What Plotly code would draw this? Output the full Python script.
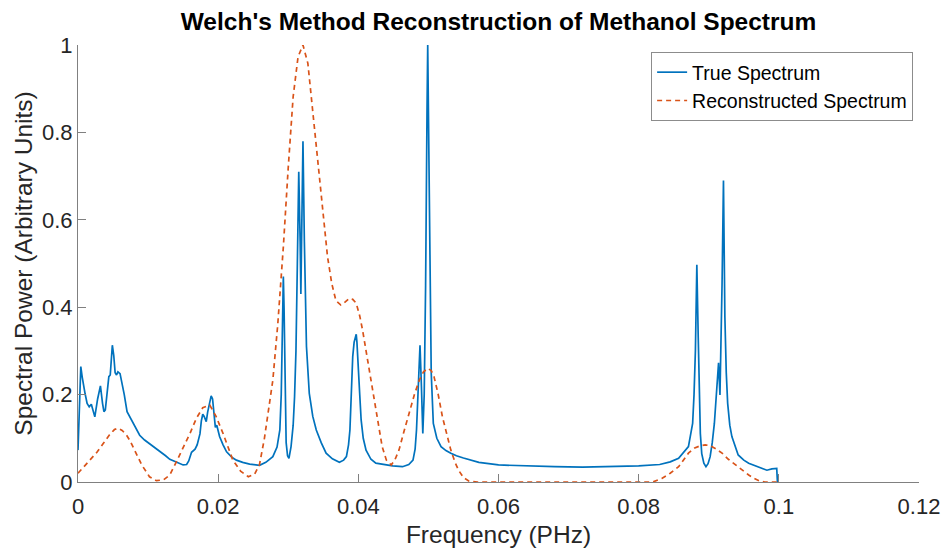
import plotly.graph_objects as go

# ---- data ----
true_freq = [0, 0.0002, 0.0004, 0.0006, 0.00076, 0.001, 0.0013, 0.0016, 0.0019, 0.0022, 0.0024, 0.0028,
             0.0032, 0.0035, 0.0037, 0.0039, 0.0042, 0.0044, 0.0046, 0.0049, 0.0051, 0.0053, 0.0055, 0.0057,
             0.006, 0.0063, 0.0066, 0.007, 0.0075, 0.0079, 0.0088, 0.0095, 0.0102, 0.011, 0.0117, 0.0125,
             0.0131, 0.014, 0.015, 0.0155, 0.0158, 0.0162, 0.0167, 0.017, 0.0174, 0.0176, 0.0178, 0.018,
             0.0183, 0.0185, 0.0188, 0.019, 0.0192, 0.0194, 0.0196, 0.0198, 0.02, 0.0202, 0.0207, 0.0212,
             0.022, 0.0226, 0.0235, 0.0245, 0.0259, 0.0268, 0.0278, 0.0284, 0.0288, 0.029, 0.0292, 0.0293,
             0.0294, 0.0295, 0.0297, 0.0299, 0.0301, 0.0304, 0.0307, 0.0309, 0.0311, 0.0313, 0.0315, 0.0317,
             0.0318, 0.0319, 0.0321, 0.0323, 0.0326, 0.033, 0.0335, 0.034, 0.0347, 0.0354, 0.0363, 0.0373,
             0.0379, 0.0383, 0.0386, 0.0388, 0.039, 0.0392, 0.0394, 0.0396, 0.0397, 0.0398, 0.04, 0.0402,
             0.0404, 0.0407, 0.0411, 0.0418, 0.0425, 0.0435, 0.0449, 0.0463, 0.0472, 0.0478, 0.0481, 0.0483,
             0.0486, 0.0488, 0.049, 0.0492, 0.0494, 0.0496, 0.0498, 0.0499, 0.05, 0.0502, 0.0504, 0.0507,
             0.0512, 0.0518, 0.0525, 0.0532, 0.054, 0.055, 0.0572, 0.06, 0.0642, 0.068, 0.072, 0.076, 0.08,
             0.083, 0.0845, 0.0857, 0.0871, 0.0877, 0.0879, 0.0881, 0.0883, 0.0885, 0.0887, 0.0888, 0.089,
             0.0893, 0.0896, 0.0899, 0.0902, 0.0905, 0.0908, 0.0911, 0.0914, 0.0916, 0.0918, 0.0919, 0.0921,
             0.0923, 0.0925, 0.0927, 0.093, 0.0933, 0.0942, 0.095, 0.0957, 0.0971, 0.0983, 0.099, 0.0997,
             0.0998]
true_power = [0.073, 0.2, 0.264, 0.24, 0.222, 0.203, 0.18, 0.172, 0.178, 0.16, 0.149, 0.19,
              0.22, 0.18, 0.161, 0.165, 0.21, 0.241, 0.245, 0.313, 0.29, 0.25, 0.245, 0.252,
              0.248, 0.225, 0.2, 0.161, 0.145, 0.134, 0.107, 0.096, 0.088, 0.078, 0.069, 0.06,
              0.052, 0.045, 0.039, 0.04, 0.048, 0.068, 0.075, 0.085, 0.11, 0.14, 0.155, 0.15,
              0.138, 0.16, 0.18, 0.197, 0.19, 0.15, 0.125, 0.13, 0.115, 0.104, 0.085, 0.069,
              0.056, 0.05, 0.045, 0.041, 0.038, 0.045, 0.058, 0.08, 0.119, 0.2, 0.38, 0.47,
              0.4, 0.25, 0.09, 0.06, 0.054, 0.081, 0.13, 0.195, 0.3, 0.5, 0.71, 0.55,
              0.43, 0.55, 0.78, 0.55, 0.31, 0.203, 0.15, 0.119, 0.09, 0.066, 0.053, 0.045,
              0.05, 0.058, 0.085, 0.119, 0.2, 0.287, 0.32, 0.333, 0.338, 0.32, 0.272, 0.2,
              0.142, 0.1, 0.073, 0.052, 0.043, 0.04, 0.037, 0.035, 0.04, 0.05, 0.075, 0.119,
              0.22, 0.313, 0.22, 0.111, 0.2, 0.45, 0.85, 1.0, 0.85, 0.5, 0.25, 0.134,
              0.1, 0.081, 0.072, 0.066, 0.06, 0.055, 0.045, 0.039, 0.036, 0.035, 0.034, 0.035, 0.037,
              0.04, 0.046, 0.054, 0.081, 0.134, 0.2, 0.302, 0.497, 0.33, 0.17, 0.111, 0.065,
              0.043, 0.035, 0.042, 0.058, 0.09, 0.134, 0.21, 0.273, 0.199, 0.35, 0.455, 0.69,
              0.378, 0.25, 0.18, 0.13, 0.104, 0.062, 0.05, 0.043, 0.035, 0.027, 0.03, 0.031,
              0.0]

recon_freq = [0, 0.0008, 0.0017, 0.0027, 0.0036, 0.0045, 0.0052, 0.0057, 0.0063, 0.0069, 0.0074, 0.0082,
              0.0091, 0.0102, 0.0112, 0.0122, 0.0131, 0.014, 0.015, 0.016, 0.0169, 0.0178, 0.0188, 0.0197,
              0.0207, 0.0214, 0.0221, 0.0232, 0.0243, 0.0252, 0.0259, 0.0266, 0.0273, 0.0278, 0.0285, 0.0293,
              0.03, 0.0307, 0.0314, 0.0321, 0.0328, 0.0333, 0.0337, 0.0342, 0.0347, 0.0352, 0.0356, 0.0362,
              0.0368, 0.0375, 0.038, 0.0387, 0.0392, 0.0397, 0.0402, 0.0406, 0.0413, 0.042, 0.0427, 0.0434,
              0.044, 0.0447, 0.0452, 0.0458, 0.0465, 0.0472, 0.048, 0.0487, 0.0493, 0.0499, 0.0504, 0.0508,
              0.0514, 0.052, 0.0526, 0.0532, 0.0538, 0.0543, 0.055, 0.0558, 0.057, 0.082, 0.0833, 0.0845,
              0.0857, 0.0871, 0.088, 0.0888, 0.0895, 0.0902, 0.091, 0.0919, 0.0928, 0.0938, 0.0948, 0.0957,
              0.0965, 0.0973, 0.098, 0.1]
recon_power = [0.02, 0.035, 0.05, 0.068, 0.088, 0.108, 0.12, 0.123, 0.118, 0.108, 0.095, 0.07,
               0.039, 0.012, 0.003, 0.005, 0.016, 0.045, 0.077, 0.112, 0.146, 0.17, 0.176, 0.15,
               0.111, 0.08, 0.05, 0.025, 0.012, 0.018, 0.04, 0.1, 0.176, 0.233, 0.36, 0.538,
               0.72, 0.882, 0.973, 1.0, 0.958, 0.88, 0.813, 0.73, 0.653, 0.58, 0.516, 0.455,
               0.415, 0.405, 0.41, 0.42, 0.418, 0.409, 0.38, 0.348, 0.28, 0.21, 0.14, 0.081,
               0.05, 0.039, 0.05, 0.073, 0.115, 0.157, 0.2, 0.233, 0.252, 0.26, 0.255, 0.241,
               0.2, 0.149, 0.11, 0.073, 0.045, 0.027, 0.01, 0.002, 0.0, 0.0, 0.008, 0.02,
               0.035, 0.066, 0.078, 0.083, 0.085, 0.083, 0.076, 0.066, 0.052, 0.039, 0.027, 0.016,
               0.008, 0.002, 0.0, 0.0]

x_ticks = [0, 0.02, 0.04, 0.06, 0.08, 0.1, 0.12]
x_ticklabels = ["0", "0.02", "0.04", "0.06", "0.08", "0.1", "0.12"]
y_ticks = [0, 0.2, 0.4, 0.6, 0.8, 1]
y_ticklabels = ["0", "0.2", "0.4", "0.6", "0.8", "1"]

FONT = "Liberation Sans, Arial, Helvetica, sans-serif"

fig = go.Figure()
fig.add_trace(go.Scatter(x=true_freq, y=true_power, mode="lines", name="True Spectrum",
                         line=dict(color="#0072BD", width=1.7)))
fig.add_trace(go.Scatter(x=recon_freq, y=recon_power, mode="lines", name="Reconstructed Spectrum",
                         line=dict(color="#D95319", width=1.7, dash="5px,4px")))

axis_common = dict(showline=True, linecolor="#808080", linewidth=1, mirror=False, automargin=False,
                   showgrid=False, zeroline=False, ticks="inside", ticklen=8, tickwidth=1,
                   tickcolor="#808080", tickfont=dict(family=FONT, size=22, color="#262626"))

fig.update_layout(
    width=945, height=549,
    margin=dict(l=78, r=26, t=45, b=67),
    paper_bgcolor="white", plot_bgcolor="white",
    title=dict(text="<b>Welch's Method Reconstruction of Methanol Spectrum</b>",
               font=dict(family=FONT, size=24.5, color="black"),
               x=0.5, xanchor="center", xref="paper", y=1 - 21 / 549, yanchor="middle", yref="container"),
    xaxis=dict(range=[0, 0.12], tickvals=x_ticks, ticktext=x_ticklabels, ticklabelstandoff=5,
               title=dict(text="Frequency (PHz)", font=dict(family=FONT, size=24.5, color="#262626"), standoff=7),
               **axis_common),
    yaxis=dict(range=[0, 1], tickvals=y_ticks, ticktext=y_ticklabels,
               title=dict(text="Spectral Power (Arbitrary Units)", font=dict(family=FONT, size=24.5, color="#262626"), standoff=2),
               **axis_common),
    legend=dict(x=0.993, xanchor="right", y=0.984, yanchor="top",
                bgcolor="white", bordercolor="#8c8c8c", borderwidth=1,
                font=dict(family=FONT, size=19.5, color="black"),
                itemwidth=30, tracegroupgap=0),
    showlegend=True,
)

fig.write_html("out.html")
